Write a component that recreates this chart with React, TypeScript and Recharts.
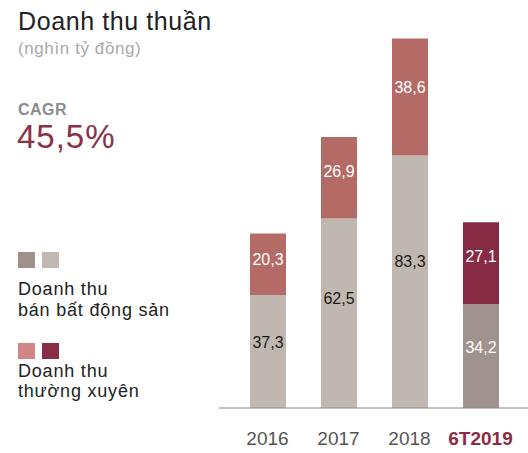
import React from "react";
import { BarChart, Bar, XAxis, YAxis, Cell, LabelList } from "recharts";

const years = ["2016", "2017", "2018", "6T2019"];
const banBds = [37.3, 62.5, 83.3, 34.2];
const thuongXuyen = [20.3, 26.9, 38.6, 27.1];

const data = years.map((year, i) => ({
  year,
  banBds: banBds[i],
  thuongXuyen: thuongXuyen[i],
}));

const FONT = "'Liberation Sans', Arial, sans-serif";
const fmt = (v: number) => v.toFixed(1).replace(".", ",");

const lastIdx = years.length - 1;

const makeLabel = (colorFor: (i: number) => string, frac: number) => (props: any) => {
  const { x, y, width, height, value, index } = props;
  return (
    <text
      x={x + width / 2}
      y={y + height * frac}
      textAnchor="middle"
      dominantBaseline="central"
      fontFamily={FONT}
      fontSize={16}
      fill={colorFor(index)}
    >
      {fmt(value)}
    </text>
  );
};

const YearTick = (props: any) => {
  const { x, y, payload, index } = props;
  const hi = index === lastIdx;
  return (
    <text
      x={x}
      y={y + 29}
      textAnchor="middle"
      fontFamily={FONT}
      fontSize={19}
      fontWeight={hi ? "bold" : "normal"}
      fill={hi ? "#8a2c45" : "#555"}
    >
      {payload.value}
    </text>
  );
};

export default function App() {
  return (
    <div style={{ position: "absolute", left: 0, top: 0, width: 528, height: 453, background: "#fff" }}>
      <svg width={528} height={453} style={{ position: "absolute", left: 0, top: 0 }}>
        <g fontFamily={FONT}>
          <text x={18} y={30} fontSize={25} letterSpacing={0.6} fill="#222">Doanh thu thuần</text>
          <text x={18} y={54} fontSize={17} letterSpacing={0.6} fill="#a8a8a8">(nghìn tỷ đồng)</text>
          <text x={18} y={115} fontSize={16} letterSpacing={0.5} fontWeight="bold" fill="#8c8c8c">CAGR</text>
          <text x={17} y={148} fontSize={33} letterSpacing={1} fill="#8b3148">45,5%</text>

          <rect x={18} y={252} width={17} height={16} fill="#a0918c" />
          <rect x={42} y={252} width={17} height={16} fill="#c1b8b2" />
          <text x={18} y={295} fontSize={18} letterSpacing={0.8} fill="#222">Doanh thu</text>
          <text x={18} y={316} fontSize={18} letterSpacing={0.8} fill="#222">bán bất động sản</text>

          <rect x={18} y={343} width={17} height={16} fill="#d08686" />
          <rect x={42} y={343} width={17} height={16} fill="#8a2c45" />
          <text x={18} y={377} fontSize={18} letterSpacing={0.8} fill="#222">Doanh thu</text>
          <text x={18} y={397} fontSize={18} letterSpacing={0.8} fill="#222">thường xuyên</text>
        </g>
      </svg>
      <div style={{ position: "absolute", left: 0, top: 0 }}>
        <BarChart
          width={528}
          height={453}
          data={data}
          margin={{ top: 14, right: 0, bottom: 0, left: 219 }}
          barCategoryGap={0}
        >
          <YAxis hide domain={[0, 130]} />
          <XAxis
            dataKey="year"
            height={45}
            padding={{ left: 13, right: 12 }}
            axisLine={{ stroke: "#8a8a8a", strokeWidth: 1 }}
            tickLine={false}
            tick={<YearTick />}
            interval={0}
          />
          <Bar dataKey="banBds" stackId="a" barSize={36} isAnimationActive={false}>
            {data.map((_, i) => (
              <Cell key={i} fill={i === lastIdx ? "#a0928d" : "#c0b7b1"} />
            ))}
            <LabelList
              dataKey="banBds"
              content={makeLabel((i) => (i === lastIdx ? "#fff" : "#1a1a1a"), 0.42)}
            />
          </Bar>
          <Bar dataKey="thuongXuyen" stackId="a" barSize={36} isAnimationActive={false}>
            {data.map((_, i) => (
              <Cell key={i} fill={i === lastIdx ? "#862b43" : "#b56b65"} />
            ))}
            <LabelList dataKey="thuongXuyen" content={makeLabel(() => "#fff", 0.42)} />
          </Bar>
        </BarChart>
      </div>
    </div>
  );
}
